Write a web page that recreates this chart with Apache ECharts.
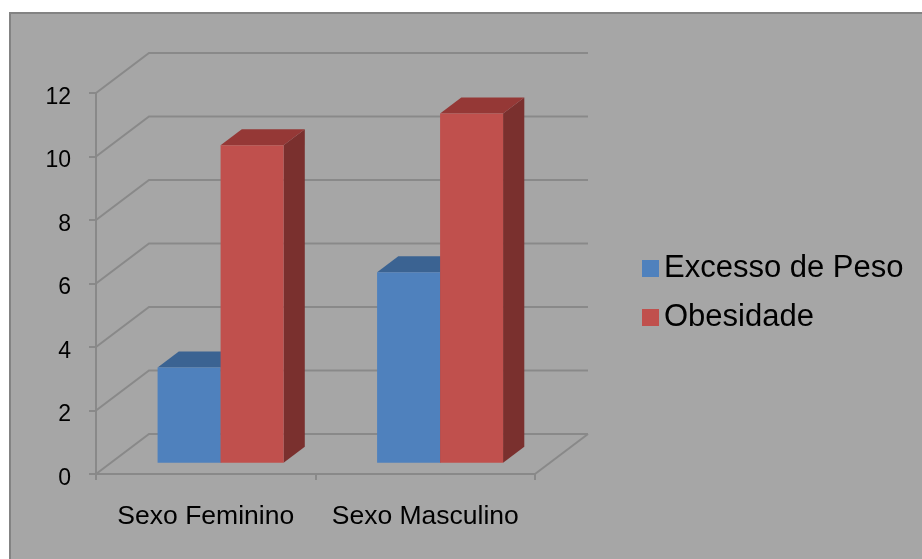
<!DOCTYPE html>
<html><head><meta charset="utf-8">
<script src="https://cdn.jsdelivr.net/npm/echarts@6/dist/echarts.min.js"></script>
<style>html,body{margin:0;padding:0;background:#fff}#c{width:922px;height:559px}</style>
</head><body><div id="c"></div>
<script>
const categories = ['Sexo Feminino', 'Sexo Masculino'];
const seriesNames = ['Excesso de Peso', 'Obesidade'];
const excessoDePeso = [3, 6];
const obesidade = [10, 11];
const yTicks = [0, 2, 4, 6, 8, 10, 12];

const LINE = '#898989';
const DX = 53, DY = 40;          // depth of the 3D wall
const PLANE = 0.28;              // depth position of the bar front face
const BDEPTH = 0.4;              // bar depth as fraction of wall depth
const BAR_FRAC = 0.287;          // bar width as fraction of category band

function wallRender(params, api) {
  const cs = params.coordSys;
  const v = api.value(1);
  const y = api.coord([0, v])[1];
  const xl = cs.x, xr = cs.x + cs.width;
  const children = [{
    type: 'polyline',
    shape: { points: [[xl, y], [xl + DX, y - DY], [xr + DX, y - DY]] },
    style: { stroke: LINE, lineWidth: 2, fill: null }
  }];
  if (v === yTicks[0]) {
    children.push({
      type: 'line',
      shape: { x1: xr, y1: y, x2: xr + DX, y2: y - DY },
      style: { stroke: LINE, lineWidth: 2 }
    });
  }
  return { type: 'group', children };
}

function barRender(side, colors) {
  return function (params, api) {
    const c = api.value(0), v = api.value(1);
    const band = api.size([1, 0])[0];
    const bw = band * BAR_FRAC;
    const base = api.coord([c, 0]);
    const top = api.coord([c, v]);
    const ox = DX * PLANE, oy = -DY * PLANE;
    const bdx = DX * BDEPTH, bdy = DY * BDEPTH;
    const x0 = base[0] + (side === 0 ? -bw : 0) + ox;
    const yb = base[1] + oy, yt = top[1] + oy;
    return {
      type: 'group', children: [
        { type: 'polygon', shape: { points: [[x0 + bw, yt], [x0 + bw + bdx, yt - bdy], [x0 + bw + bdx, yb - bdy], [x0 + bw, yb]] }, style: { fill: colors[2] } },
        { type: 'polygon', shape: { points: [[x0, yt], [x0 + bw, yt], [x0 + bw + bdx, yt - bdy], [x0 + bdx, yt - bdy]] }, style: { fill: colors[1] } },
        { type: 'rect', shape: { x: x0, y: yt, width: bw, height: yb - yt }, style: { fill: colors[0] } }
      ]
    };
  };
}

const blue = ['#4f81bd', '#3b6392', '#2f4e74'];
const red = ['#c0504d', '#953836', '#7a302e'];

const chart = echarts.init(document.getElementById('c'), null, { renderer: 'canvas' });
chart.setOption({
  backgroundColor: '#ffffff',
  animation: false,
  textStyle: { fontFamily: 'Liberation Sans, Arial, sans-serif' },
  graphic: [{
    type: 'rect', z: -100, silent: true,
    shape: { x: 10, y: 13, width: 1000, height: 1000 },
    style: { fill: '#a6a6a6', stroke: '#838383', lineWidth: 2 }
  }],
  grid: { left: 96, top: 93, width: 439, height: 381, containLabel: false },
  legend: {
    orient: 'vertical', left: 637, top: 248,
    itemWidth: 17, itemHeight: 17, itemGap: 18,
    icon: 'rect',
    textStyle: { fontSize: 31, color: '#000' },
    data: seriesNames
  },
  xAxis: {
    type: 'category', data: categories,
    axisLine: { lineStyle: { color: LINE, width: 2 } },
    axisTick: { show: true, length: 6, lineStyle: { color: LINE, width: 2 } },
    axisLabel: { fontSize: 26.5, color: '#000', margin: 29, interval: 0 },
    splitLine: { show: false }
  },
  yAxis: {
    type: 'value', min: 0, max: 12, interval: 2,
    axisLine: { show: true, lineStyle: { color: LINE, width: 2 } },
    axisTick: { show: true, length: 7, lineStyle: { color: LINE, width: 2 } },
    axisLabel: {
      color: '#000', margin: 25,
      formatter: v => '{a|' + v + '}',
      rich: { a: { fontSize: 23, color: '#000', padding: [9, 0, 0, 0] } }
    },
    splitLine: { show: false }
  },
  series: [
    {
      type: 'custom', name: 'wall', clip: false, silent: true, z: 1,
      renderItem: wallRender,
      data: yTicks.map(v => [0, v])
    },
    {
      type: 'custom', name: seriesNames[0], clip: false, z: 2,
      itemStyle: { color: blue[0] },
      renderItem: barRender(0, blue),
      data: excessoDePeso.map((v, i) => [i, v])
    },
    {
      type: 'custom', name: seriesNames[1], clip: false, z: 3,
      itemStyle: { color: red[0] },
      renderItem: barRender(1, red),
      data: obesidade.map((v, i) => [i, v])
    }
  ]
});
</script></body></html>
